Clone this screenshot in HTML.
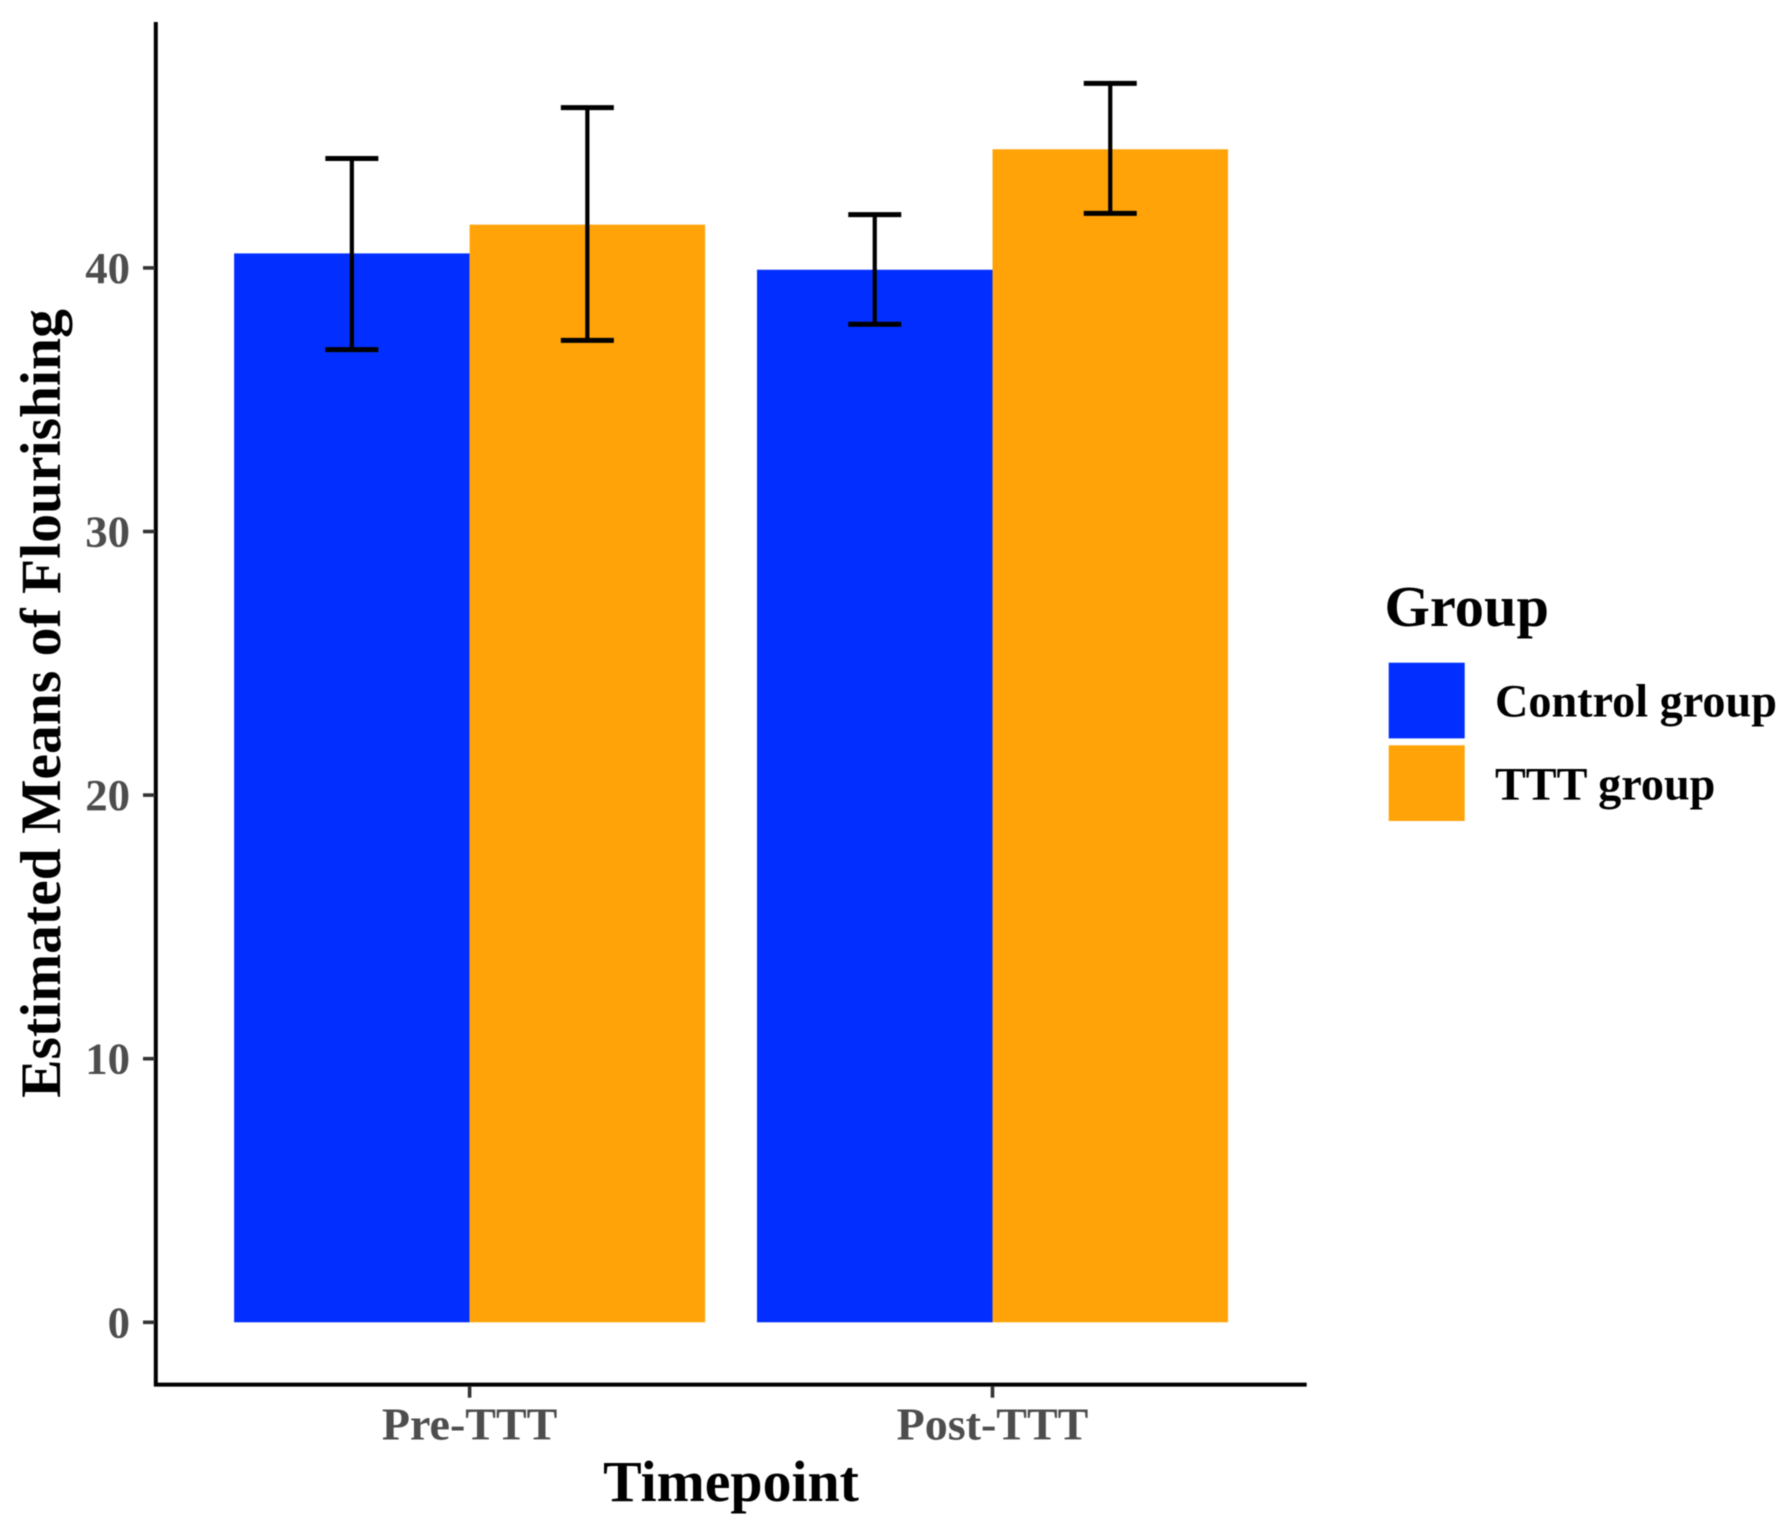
<!DOCTYPE html>
<html lang="en">
<head>
<meta charset="utf-8">
<title>Estimated Means of Flourishing by Timepoint and Group</title>
<style>
  html, body { margin: 0; padding: 0; background: #ffffff; }
  body { width: 1787px; height: 1532px; overflow: hidden; }
  #chart { display: block; filter: blur(0.6px); }
  text { font-family: "Liberation Serif", serif; font-weight: bold; }
</style>
</head>
<body>
<svg id="chart" xmlns="http://www.w3.org/2000/svg" width="1787" height="1532" viewBox="0 0 1787 1532">
  <rect x="0" y="0" width="1787" height="1532" fill="#ffffff"></rect>
  <g id="bars"></g>
  <g id="errors"></g>
  <g id="axes"></g>
  <text x="60" y="0" transform="rotate(-90 60 0) translate(-703.5 0)" text-anchor="middle" font-size="57.6" fill="#000000">Estimated Means of Flourishing</text>
  <text x="731" y="1501" text-anchor="middle" font-size="57.8" fill="#000000">Timepoint</text>
  <g id="legend">
    <text x="1384.5" y="626" font-size="58.4" fill="#000000">Group</text>
  </g>
</svg>
<script>
const categories = ["Pre-TTT", "Post-TTT"];
const groupNames = ["Control group", "TTT group"];
const groupColors = ["#022FFF", "#FFA308"];
const controlMeans = [40.55, 39.93];
const tttMeans = [41.64, 44.50];
const controlLower = [36.90, 37.86];
const controlUpper = [44.15, 42.02];
const tttLower = [37.25, 42.07];
const tttUpper = [46.08, 47.00];
const yTickValues = [0, 10, 20, 30, 40];

const SVG_NS = "http://www.w3.org/2000/svg";

function yScale(v) { return 1322.3 - v * 26.36; }
function xCenter(i) { return 469.6 + i * 522.9; }
const barWidth = 235.5;
function barLeft(catIndex, groupIndex) { return xCenter(catIndex) - barWidth + groupIndex * barWidth; }

function make(tag, attrs, parent) {
  const el = document.createElementNS(SVG_NS, tag);
  for (const k in attrs) el.setAttribute(k, attrs[k]);
  parent.appendChild(el);
  return el;
}

const barsLayer = document.getElementById("bars");
const errorsLayer = document.getElementById("errors");
const axesLayer = document.getElementById("axes");
const legendLayer = document.getElementById("legend");

const meansByGroup = [controlMeans, tttMeans];
const lowerByGroup = [controlLower, tttLower];
const upperByGroup = [controlUpper, tttUpper];

categories.forEach(function (cat, c) {
  groupNames.forEach(function (grp, g) {
    const top = yScale(meansByGroup[g][c]);
    const bar = make("rect", {
      x: barLeft(c, g),
      y: top,
      width: barWidth,
      height: yScale(0) - top,
      fill: groupColors[g]
    }, barsLayer);
    
    
  });
});

categories.forEach(function (cat, c) {
  groupNames.forEach(function (grp, g) {
    const cx = barLeft(c, g) + barWidth / 2;
    const yLo = yScale(lowerByGroup[g][c]);
    const yHi = yScale(upperByGroup[g][c]);
    const eb = make("g", { stroke: "#000000", fill: "none" }, errorsLayer);
    
    
    make("line", { x1: cx, x2: cx, y1: yHi, y2: yLo, "stroke-width": 4.2 }, eb);
    make("line", { x1: cx - 26.5, x2: cx + 26.5, y1: yHi, y2: yHi, "stroke-width": 5 }, eb);
    make("line", { x1: cx - 26.5, x2: cx + 26.5, y1: yLo, y2: yLo, "stroke-width": 5 }, eb);
  });
});

const yAxisLine = make("line", { x1: 155.8, x2: 155.8, y1: 22, y2: 1386.5, stroke: "#000000", "stroke-width": 4 }, axesLayer);



const xAxisLine = make("line", { x1: 154, x2: 1306.7, y1: 1384.6, y2: 1384.6, stroke: "#000000", "stroke-width": 4 }, axesLayer);



yTickValues.forEach(function (v) {
  const y = yScale(v);
  const tick = make("line", { x1: 143, x2: 155, y1: y, y2: y, stroke: "#333333", "stroke-width": 3.6 }, axesLayer);
  
  
  const label = make("text", { x: 130, y: y + 15, "text-anchor": "end", "font-size": 44.8, fill: "#4d4d4d" }, axesLayer);
  label.textContent = String(v);
  
  
});

categories.forEach(function (cat, c) {
  const x = xCenter(c);
  const tick = make("line", { x1: x, x2: x, y1: 1386, y2: 1397.7, stroke: "#333333", "stroke-width": 3.6 }, axesLayer);
  
  
  const label = make("text", { x: x, y: 1439.3, "text-anchor": "middle", "font-size": 46, fill: "#4d4d4d" }, axesLayer);
  label.textContent = cat;
  
  
});

groupNames.forEach(function (grp, g) {
  const swatch = make("rect", { x: 1388.7, y: 662.7 + g * 82.6, width: 76, height: 75.7, fill: groupColors[g] }, legendLayer);
  
  
  const label = make("text", { x: 1495, y: 716.7 + g * 82.6, "font-size": 46.2, fill: "#000000" }, legendLayer);
  label.textContent = grp;
  
  
});
</script>
</body>
</html>
